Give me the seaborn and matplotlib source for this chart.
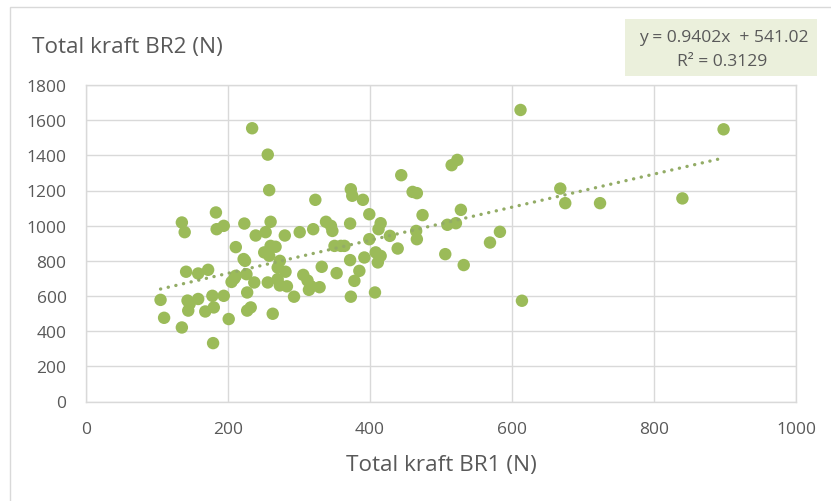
import matplotlib
matplotlib.use("Agg")
import matplotlib.pyplot as plt
import seaborn as sns
import pandas as pd
import numpy as np
from matplotlib.patches import Rectangle

# Total kraft BR1 (N)
br1 = [234, 256, 258, 323, 183, 135, 139, 184, 194, 223, 260, 239, 253, 280, 301,
       320, 338, 211, 260, 267, 251, 258, 273, 222, 224, 332, 270, 281, 141, 158,
       172, 211, 209, 205, 226, 237, 256, 270, 273, 283, 293, 306, 312, 317, 329,
       227, 194, 178, 105, 143, 158, 144, 146, 168, 180, 110, 135, 201, 227, 232,
       263, 179, 612, 515, 523, 444, 460, 466, 373, 375, 390, 399, 474, 528, 509,
       521, 415, 412, 372, 345, 347, 465, 466, 428, 399, 439, 350, 359, 364, 372,
       392, 408, 415, 411, 506, 583, 569, 532, 353, 385, 378, 314, 373, 407, 614,
       898, 668, 675, 724, 840]
# Total kraft BR2 (N)
br2 = [1554, 1404, 1202, 1147, 1075, 1018, 963, 980, 999, 1012, 1022, 944, 963, 944, 963,
       980, 1022, 878, 885, 880, 848, 829, 800, 810, 800, 766, 762, 738, 738, 728,
       749, 715, 700, 680, 724, 677, 677, 696, 660, 655, 596, 720, 688, 655, 650,
       620, 601, 601, 578, 574, 583, 517, 555, 512, 535, 476, 421, 469, 517, 535,
       499, 332, 1658, 1344, 1374, 1287, 1192, 1185, 1207, 1170, 1147, 1065, 1060, 1090, 1005,
       1014, 1014, 980, 1012, 999, 970, 970, 923, 942, 923, 870, 885, 885, 885, 804,
       819, 848, 828, 791, 838, 965, 904, 776, 730, 743, 686, 635, 596, 620, 573,
       1548, 1211, 1128, 1128, 1155]

slope = 0.9402
intercept = 541.02
r2 = 0.3129
x_ticks = [0, 200, 400, 600, 800, 1000]
y_ticks = [0, 200, 400, 600, 800, 1000, 1200, 1400, 1600, 1800]
title = "Total kraft BR2 (N)"
xlabel = "Total kraft BR1 (N)"

sns.set_theme(style="whitegrid")
plt.rcParams['font.family'] = ['Open Sans', 'DejaVu Sans']

W, H = 831, 502
fig = plt.figure(figsize=(W / 100, H / 100), dpi=100)
fig.patch.set_facecolor('white')

# outer chart border
fig.patches.append(Rectangle((10 / W, -0.1), 1.2, 1.1 - 8 / H, transform=fig.transFigure,
                             facecolor='none', edgecolor='#D9D9D9', linewidth=1.0, zorder=0))

ax = fig.add_axes([86 / W, 1 - 402.5 / H, (796 - 86) / W, (402.5 - 86) / H])

df = pd.DataFrame({'BR1': br1, 'BR2': br2})
sns.scatterplot(data=df, x='BR1', y='BR2', ax=ax, s=80, color='#9BBB59',
                edgecolor='none', linewidth=0, zorder=3)

xs = np.array([min(br1), max(br1)])
ax.plot(xs, slope * xs + intercept, color='#93AC66', linewidth=2.4,
        linestyle=(0, (0.05, 2.3)), dash_capstyle='round', zorder=4)

ax.set_xlim(0, 1000)
ax.set_ylim(0, 1800)
ax.set_xticks(x_ticks)
ax.set_yticks(y_ticks)
ax.set_xlabel('')
ax.set_ylabel('')
ax.grid(True, color='#D9D9D9', linewidth=1.0)
for sp in ax.spines.values():
    sp.set_visible(True)
    sp.set_color('#D9D9D9')
    sp.set_linewidth(1.0)
ax.tick_params(axis='both', length=0, labelsize=12.5, labelcolor='#595959', pad=14)

fig.text(32 / W, 1 - 47 / H, title, ha='left', va='center', fontsize=16.2, color='#595959')
fig.text(441 / W, 1 - 466 / H, xlabel, ha='center', va='center', fontsize=16.2, color='#595959')

# equation box
fig.patches.append(Rectangle((625 / W, 1 - 77 / H), 192 / W, 57 / H, transform=fig.transFigure,
                             facecolor='#EBF0DC', edgecolor='none', zorder=1))
fig.text(724 / W, 1 - 38 / H, f"y = {slope}x  + {intercept}", ha='center', va='center',
         fontsize=12.6, color='#595959', zorder=2)
fig.text(722 / W, 1 - 62 / H, f"R² = {r2}", ha='center', va='center',
         fontsize=12.6, color='#595959', zorder=2)

fig.savefig('out.png', dpi=100, facecolor='white')
